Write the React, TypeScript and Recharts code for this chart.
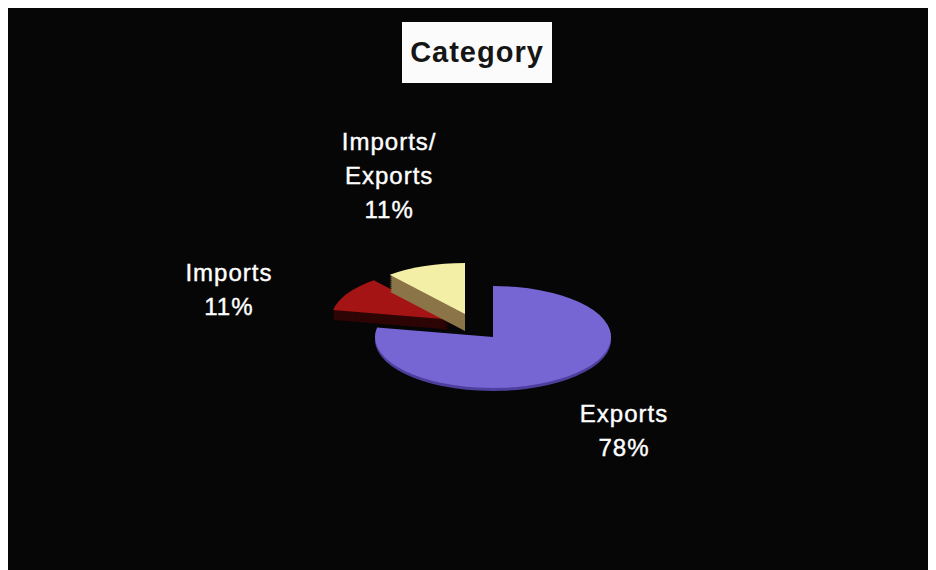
import React from "react";
import { PieChart, Pie, Cell } from "recharts";

// chart values
const names = ["Exports", "Imports", "Imports/Exports"];
const values = [78, 11, 11];
const data = names.map((name, i) => ({ name, value: values[i] }));

// look of each slice (same order as names)
const topColors = ["#7566d4", "#a51414", "#f3efa6"];
const sideColors = ["#4e3f9e", "#2e0505", "#8b7548"];
const explode = [
  { dx: 0, dy: 0 },
  { dx: -44, dy: -17.5 },
  { dx: -28, dy: -23 },
];
const depth = [3, 10, 17]; // thickness of the 3d side, screen px
const labelNudge = [
  { dx: -6, dy: 1 },
  { dx: -35, dy: 31 },
  { dx: -3, dy: -26 },
];
const drawOrder = [1, 2, 0];

const W = 928;
const H = 562;
const CX = 485;
const CY = 329;
const R = 118;
const K = 0.432; // vertical squash of the tilted pie
const LRX = 215;
const LRY = 120;
const LINE = 34;
const CAP = 17;
const FONT = "'Liberation Sans', Arial, sans-serif";
const NO_MARGIN = { top: 0, right: 0, bottom: 0, left: 0 };

const RAD = Math.PI / 180;

const renderLabel = (props: any) => {
  const { cx, cy, midAngle, percent, index, name } = props;
  const x = cx + LRX * Math.cos(-midAngle * RAD) + explode[index].dx + labelNudge[index].dx;
  const yc = cy + LRY * Math.sin(-midAngle * RAD) + explode[index].dy + labelNudge[index].dy;
  const parts = String(name).split("/");
  const lines = parts.length > 1 ? [parts[0] + "/", ...parts.slice(1)] : parts;
  lines.push(`${Math.round(percent * 100)}%`);
  const total = (lines.length - 1) * LINE + CAP;
  const y0 = yc - total / 2 + CAP;
  return (
    <text
      key={`lbl-${index}`}
      x={x}
      y={y0}
      fill="#ffffff"
      stroke="#ffffff"
      strokeWidth={0.4}
      textAnchor="middle"
      fontFamily={FONT}
      fontSize={24}
      letterSpacing={1}
    >
      {lines.map((l, i) => (
        <tspan key={i} x={x} y={y0 + i * LINE}>
          {l}
        </tspan>
      ))}
    </text>
  );
};

const App: React.FC = () => {
  const layers: { idx: number; off: number; color: string }[] = [];
  drawOrder.forEach((idx) => {
    for (let d = depth[idx]; d > 0; d -= 2) {
      layers.push({ idx, off: d, color: sideColors[idx] });
    }
    layers.push({ idx, off: 0, color: topColors[idx] });
  });

  return (
    <div style={{ position: "relative", width: W, height: H, background: "#060606", overflow: "hidden" }}>
      {/* tilted pie: drawn round, then squashed */}
      <div
        style={{
          position: "absolute",
          left: 0,
          top: 0,
          width: W,
          height: H,
          transform: `scaleY(${K})`,
          transformOrigin: `${CX}px ${CY}px`,
        }}
      >
        <PieChart width={W} height={H} margin={NO_MARGIN}>
          {layers.map((l, n) => (
            <Pie
              key={`layer-${n}`}
              data={data}
              dataKey="value"
              nameKey="name"
              cx={CX + explode[l.idx].dx}
              cy={CY + (explode[l.idx].dy + l.off) / K}
              outerRadius={R}
              startAngle={90}
              endAngle={-270}
              stroke="none"
              label={false}
              labelLine={false}
              isAnimationActive={false}
            >
              {data.map((_, j) => (
                <Cell key={j} fill={j === l.idx ? l.color : "transparent"} stroke="none" />
              ))}
            </Pie>
          ))}
        </PieChart>
      </div>

      {/* labels, not squashed */}
      <div style={{ position: "absolute", left: 0, top: 0, width: W, height: H }}>
        <PieChart width={W} height={H} margin={NO_MARGIN}>
          <Pie
            data={data}
            dataKey="value"
            nameKey="name"
            cx={CX}
            cy={CY}
            outerRadius={R}
            startAngle={90}
            endAngle={-270}
            stroke="none"
            label={renderLabel}
            labelLine={false}
            isAnimationActive={false}
          >
            {data.map((_, j) => (
              <Cell key={j} fill="transparent" stroke="none" />
            ))}
          </Pie>
        </PieChart>
      </div>

      <div
        style={{
          position: "absolute",
          left: 394,
          top: 14,
          width: 150,
          height: 61,
          background: "#fbfbfb",
          display: "flex",
          alignItems: "center",
          justifyContent: "center",
          fontFamily: FONT,
          fontWeight: "bold",
          fontSize: 29,
          letterSpacing: 1,
          color: "#151515",
        }}
      >
        Category
      </div>
    </div>
  );
};

export default App;
